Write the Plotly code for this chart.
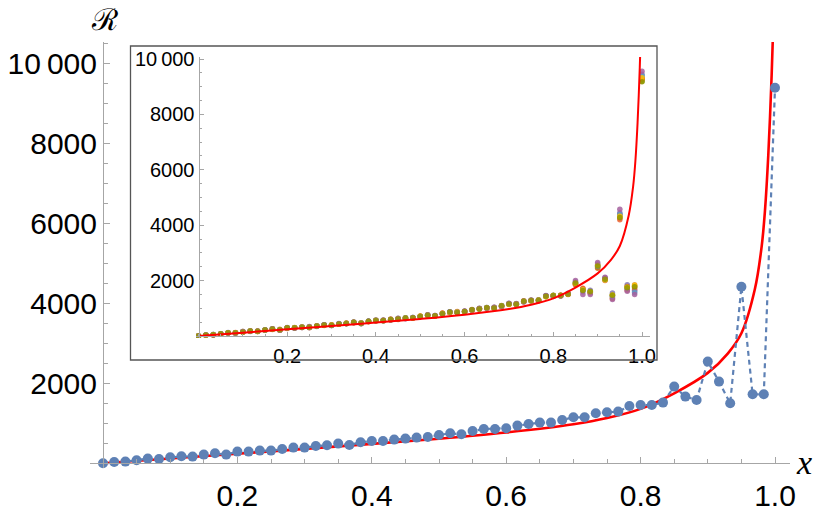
import plotly.graph_objects as go

W, H = 830, 512

# ---- data ----
x_pts = [k / 60 for k in range(61)]
main_R = [0, 33, 42, 75, 117, 108, 150, 175, 167, 217, 250, 217, 292, 292, 317, 317, 358, 392, 392, 433,
          450, 492, 458, 525, 558, 558, 592, 617, 642, 658, 708, 750, 725, 808, 858, 858, 875, 942, 983, 1017,
          1017, 1083, 1150, 1150, 1250, 1275, 1292, 1433, 1458, 1458, 1517, 1917, 1667, 1583, 2542, 2042, 1500,
          4415, 1725, 1725, 9390]

curve_x = [0, 0.1, 0.2, 0.3, 0.4, 0.5, 0.6, 0.7, 0.75, 0.8, 0.85, 0.9, 0.93, 0.95, 0.97, 0.98, 0.985, 0.99, 0.995, 0.9975]
curve_R = [0, 120, 240, 360, 485, 615, 770, 975, 1130, 1360, 1750, 2260, 2750, 3250, 4350, 5400, 6300, 7700, 9700, 11000]

inset_A = [0, 30, 50, 70, 110, 120, 140, 180, 170, 210, 240, 230, 280, 300, 320, 310, 350, 400, 380, 440, 460, 480, 470, 520, 570, 550, 600, 610, 650, 660, 700, 760, 730, 800, 870, 850, 880, 950, 980, 1020, 1010, 1090, 1160, 1140, 1260, 1270, 1300, 1440, 1470, 1450, 1520, 1900, 1680, 1600, 2550, 2050, 1450, 4400, 1700, 1650, 9350]
inset_B = [0, 35, 40, 80, 120, 100, 160, 170, 160, 220, 260, 210, 300, 290, 310, 330, 360, 380, 400, 430, 440, 500, 450, 530, 550, 570, 580, 630, 640, 650, 720, 740, 720, 820, 850, 870, 870, 930, 990, 1010, 1030, 1070, 1140, 1160, 1240, 1290, 1280, 1420, 1450, 1470, 1510, 1880, 1700, 1620, 2500, 2080, 1380, 4250, 1800, 1850, 9250]
inset_C = [0, 30, 45, 75, 115, 110, 150, 180, 175, 215, 250, 220, 290, 295, 315, 320, 355, 395, 390, 435, 455, 490, 460, 520, 560, 555, 590, 620, 640, 660, 705, 750, 725, 805, 860, 860, 870, 945, 980, 1015, 1020, 1080, 1150, 1150, 1250, 1270, 1290, 1430, 1460, 1455, 1520, 1920, 1650, 1580, 2540, 2040, 1500, 4300, 1750, 1750, 9200]
inset_D = [0, 25, 55, 65, 105, 125, 135, 190, 160, 230, 235, 240, 275, 310, 330, 300, 370, 385, 410, 420, 470, 475, 480, 510, 575, 540, 610, 600, 660, 640, 715, 770, 710, 830, 840, 880, 890, 960, 970, 1030, 1000, 1100, 1170, 1130, 1270, 1260, 1310, 1450, 1440, 1480, 1500, 1850, 1720, 1550, 2480, 2000, 1350, 4200, 1650, 1700, 9300]
inset_E = [0, 40, 35, 85, 125, 95, 165, 165, 185, 205, 265, 205, 305, 280, 305, 340, 345, 410, 375, 450, 445, 505, 445, 540, 545, 575, 575, 640, 625, 670, 695, 760, 740, 795, 875, 845, 900, 930, 1000, 1000, 1040, 1060, 1180, 1170, 1230, 1300, 1270, 1460, 1430, 1440, 1540, 1950, 1600, 1650, 2600, 2100, 1550, 4450, 1850, 1600, 9450]
inset_F = [0, 30, 45, 70, 110, 115, 145, 175, 165, 220, 245, 215, 295, 290, 320, 315, 360, 390, 395, 430, 450, 495, 455, 525, 555, 560, 595, 615, 645, 655, 710, 745, 730, 810, 855, 855, 880, 940, 985, 1020, 1015, 1085, 1145, 1155, 1245, 1280, 1295, 1425, 1465, 1460, 1510, 1870, 1690, 1570, 2450, 2060, 1450, 4350, 1780, 1800, 9280]
inset_G = [0, 35, 50, 80, 120, 105, 155, 185, 170, 225, 255, 225, 285, 300, 325, 310, 365, 400, 385, 440, 455, 485, 465, 530, 565, 550, 600, 610, 655, 665, 700, 755, 735, 800, 865, 865, 870, 950, 975, 1025, 1010, 1090, 1155, 1145, 1255, 1275, 1300, 1440, 1455, 1465, 1525, 1930, 1660, 1600, 2520, 2030, 1420, 4380, 1720, 1560, 9400]
inset_H = [0, 28, 42, 72, 118, 112, 148, 172, 178, 212, 248, 218, 288, 296, 312, 322, 352, 388, 396, 428, 458, 488, 462, 522, 552, 562, 588, 622, 638, 662, 712, 748, 722, 812, 852, 862, 878, 938, 988, 1012, 1022, 1078, 1148, 1152, 1248, 1272, 1288, 1428, 1462, 1452, 1515, 1900, 1670, 1590, 2560, 2020, 1480, 4320, 1760, 1820, 9320]
inset_I = [0, 38, 38, 82, 112, 102, 158, 168, 182, 208, 262, 212, 302, 284, 308, 336, 348, 406, 378, 446, 448, 500, 450, 536, 548, 572, 580, 636, 630, 668, 698, 758, 738, 798, 870, 848, 895, 935, 995, 1005, 1035, 1065, 1175, 1165, 1235, 1295, 1275, 1455, 1435, 1445, 1535, 2000, 1500, 1500, 2650, 2120, 1320, 4580, 1620, 1500, 9560]
inset_J = [0, 32, 48, 78, 114, 118, 146, 182, 168, 218, 252, 222, 294, 298, 318, 312, 362, 394, 388, 436, 452, 494, 458, 528, 562, 556, 596, 612, 648, 656, 706, 752, 728, 806, 862, 852, 884, 946, 978, 1022, 1012, 1088, 1152, 1148, 1252, 1278, 1294, 1438, 1458, 1462, 1518, 1910, 1640, 1610, 2530, 2050, 1470, 4280, 1740, 1780, 9180]

inset_series = [inset_A, inset_B, inset_C, inset_D, inset_E, inset_F, inset_G, inset_H, inset_I, inset_J]
inset_colors = ["#5E81B5", "#E19C24", "#8FB032", "#EB6235", "#8778B3",
                "#C56E1A", "#5D9EC7", "#FFBF00", "#A5609D", "#929600"]

main_xticks = [0.2, 0.4, 0.6, 0.8, 1.0]
main_xtext = ["0.2", "0.4", "0.6", "0.8", "1.0"]
main_yticks = [2000, 4000, 6000, 8000, 10000]
main_ytext = ["2000", "4000", "6000", "8000", "10\u2009000"]

# ---- pixel geometry helpers ----
def px(p):
    return p / W

def py(p):
    return 1 - p / H

AX = "#a6a6a6"
FONT = "Liberation Sans"

fig = go.Figure()

# main traces
fig.add_trace(go.Scatter(x=curve_x, y=curve_R, mode="lines", line=dict(color="#ff0000", width=2.6, shape="spline"),
                         xaxis="x", yaxis="y", showlegend=False, hoverinfo="skip"))
fig.add_trace(go.Scatter(x=x_pts, y=main_R, mode="lines+markers",
                         line=dict(color="#5E81B5", width=2.2, dash="5px,4px"),
                         marker=dict(color="#5E81B5", size=10),
                         xaxis="x", yaxis="y", showlegend=False, cliponaxis=False))

# inset traces
for s, c in zip(inset_series, inset_colors):
    fig.add_trace(go.Scatter(x=x_pts, y=s, mode="markers", marker=dict(color=c, size=5.5, opacity=0.85),
                             xaxis="x2", yaxis="y2", showlegend=False))
fig.add_trace(go.Scatter(x=curve_x, y=curve_R, mode="lines", line=dict(color="#ff0000", width=2, shape="spline"),
                         xaxis="x2", yaxis="y2", showlegend=False))

# main axes geometry
mx0, mx1 = 90, 790
my0, my1 = 468, 42
mx_zero, mx_scale = 103, 672.0
my_zero, my_scale = 463.3, 0.04

ix0, ix1 = 196, 650
iy0, iy1 = 338, 57
ix_zero, ix_scale = 198.5, 443.5
iy_zero, iy_scale = 336, 0.0277

tickfont_main = dict(family=FONT, size=30, color="black")
tickfont_in = dict(family=FONT, size=20, color="black")

common = dict(showline=True, linecolor=AX, linewidth=1, showgrid=False, zeroline=False,
              automargin=False, tickcolor=AX, ticks="inside")

fig.update_layout(
    width=W, height=H, margin=dict(l=0, r=0, t=0, b=0, autoexpand=False),
    paper_bgcolor="white", plot_bgcolor="white",
    xaxis=dict(domain=[px(mx0), px(mx1)],
               range=[(mx0 - mx_zero) / mx_scale, (mx1 - mx_zero) / mx_scale],
               anchor="free", position=py(my_zero),
               tickvals=main_xticks, ticktext=main_xtext, ticklen=6,
               tickfont=tickfont_main, ticklabelstandoff=6,
               minor=dict(tick0=0, dtick=0.05, ticks="inside", ticklen=4, tickcolor=AX), **common),
    yaxis=dict(domain=[py(my0), py(my1)],
               range=[(my_zero - my0) / my_scale, (my_zero - my1) / my_scale],
               anchor="free", position=px(mx_zero),
               tickvals=main_yticks, ticktext=main_ytext, ticklen=6,
               tickfont=tickfont_main, ticklabelstandoff=0,
               minor=dict(tick0=0, dtick=500, ticks="inside", ticklen=4, tickcolor=AX), **common),
    xaxis2=dict(domain=[px(ix0), px(ix1)],
                range=[(ix0 - ix_zero) / ix_scale, (ix1 - ix_zero) / ix_scale],
                anchor="free", position=py(iy_zero),
                tickvals=main_xticks, ticktext=main_xtext, ticklen=4,
                tickfont=tickfont_in, ticklabelstandoff=2,
                minor=dict(tick0=0, dtick=0.05, ticks="inside", ticklen=2.5, tickcolor=AX), **common),
    yaxis2=dict(domain=[py(iy0), py(iy1)],
                range=[(iy_zero - iy0) / iy_scale, (iy_zero - iy1) / iy_scale],
                anchor="free", position=px(ix_zero),
                tickvals=main_yticks, ticktext=main_ytext, ticklen=4,
                tickfont=tickfont_in, ticklabelstandoff=0,
                minor=dict(tick0=0, dtick=500, ticks="inside", ticklen=2.5, tickcolor=AX), **common),
    shapes=[dict(type="rect", xref="paper", yref="paper",
                 x0=px(130.5), x1=px(657), y0=py(360), y1=py(46),
                 line=dict(color="#555555", width=1.3), fillcolor="rgba(0,0,0,0)", layer="above")],
    annotations=[
        dict(text="<i>x</i>", xref="paper", yref="paper", x=px(804), y=py(462), showarrow=False,
             font=dict(family="Liberation Serif", size=34, color="black"), xanchor="center", yanchor="middle"),
        dict(text="ℛ", xref="paper", yref="paper", x=px(104), y=py(19), showarrow=False,
             font=dict(family="DejaVu Serif", size=30, color="black"), xanchor="center", yanchor="middle"),
    ],
)

fig.write_html("out.html", config={"displayModeBar": False},
               post_script="document.body.style.margin='0';document.body.style.overflow='hidden';")
